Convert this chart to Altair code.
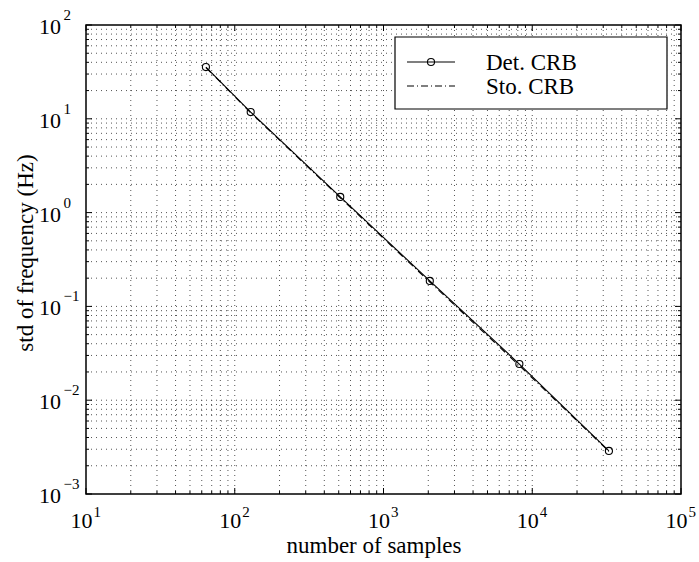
import altair as alt
import pandas as pd

# Cramér-Rao bounds on the frequency estimate versus record length
N = [64, 128, 512, 2048, 8192, 32768]
det_crb = [35.6, 11.8, 1.47, 0.187, 0.0243, 0.00288]
sto_crb = [35.2, 11.6, 1.44, 0.182, 0.0234, 0.00284]

# decade ticks and their exponent labels
x_decades = [10, 100, 1000, 10000, 100000]
x_exponents = ["1", "2", "3", "4", "5"]
y_decades = [0.001, 0.01, 0.1, 1, 10, 100]
y_exponents = ["\u22123", "\u22122", "\u22121", "0", "1", "2"]
mantissas = [2, 3, 4, 5, 6, 7, 8, 9]

legend_labels = ["Det. CRB", "Sto. CRB"]
x_title = "number of samples"
y_title = "std of frequency (Hz)"

W, H = 595, 469
FONT = "Liberation Serif"
MAJOR, MINOR = 6, 3
DASHDOT = [7, 3, 1, 3]
GRID_DASH = [1, 4]
GRID_COLOR = "#555555"

x_minor = [m * d for d in x_decades[:-1] for m in mantissas]
y_minor = [m * d for d in y_decades[:-1] for m in mantissas]

xs = alt.Scale(type="log", domain=[10, 100000])
ys = alt.Scale(type="log", domain=[0.001, 100])

curves = pd.DataFrame({"N": N, "det": det_crb, "sto": sto_crb})
one = pd.DataFrame({"k": [0]})

# dotted grid at every major and minor tick
x_grid = alt.Chart(pd.DataFrame({"v": x_decades[1:-1] + x_minor})).mark_rule(
    color=GRID_COLOR, strokeWidth=1, strokeDash=GRID_DASH).encode(
    x=alt.X("v:Q", scale=xs, axis=None), y=alt.value(0), y2=alt.value(H))
y_grid = alt.Chart(pd.DataFrame({"v": y_decades[1:-1] + y_minor})).mark_rule(
    color=GRID_COLOR, strokeWidth=1, strokeDash=GRID_DASH).encode(
    y=alt.Y("v:Q", scale=ys, axis=None), x=alt.value(0), x2=alt.value(W))

# curves
sto_line = alt.Chart(curves).mark_line(color="black", strokeWidth=1.1, strokeDash=DASHDOT).encode(
    x=alt.X("N:Q", scale=xs, axis=None),
    y=alt.Y("sto:Q", scale=ys, axis=None),
)
det_line = alt.Chart(curves).mark_line(color="black", strokeWidth=1.1).encode(
    x=alt.X("N:Q", scale=xs, axis=None),
    y=alt.Y("det:Q", scale=ys, axis=None),
)
det_pts = alt.Chart(curves).mark_point(shape="circle", filled=False, size=50,
                                       color="black", strokeWidth=1.1, opacity=1).encode(
    x=alt.X("N:Q", scale=xs, axis=None),
    y=alt.Y("det:Q", scale=ys, axis=None),
)


# inward ticks on all four sides of the box
def x_ticks(values, length):
    base = alt.Chart(pd.DataFrame({"v": values})).mark_rule(color="black", strokeWidth=1)
    xe = alt.X("v:Q", scale=xs, axis=None)
    return [base.encode(x=xe, y=alt.value(H), y2=alt.value(H - length)),
            base.encode(x=xe, y=alt.value(0), y2=alt.value(length))]


def y_ticks(values, length):
    base = alt.Chart(pd.DataFrame({"v": values})).mark_rule(color="black", strokeWidth=1)
    ye = alt.Y("v:Q", scale=ys, axis=None)
    return [base.encode(y=ye, x=alt.value(0), x2=alt.value(length)),
            base.encode(y=ye, x=alt.value(W), x2=alt.value(W - length))]


ticks = (x_ticks(x_decades, MAJOR) + x_ticks(x_minor, MINOR)
         + y_ticks(y_decades, MAJOR) + y_ticks(y_minor, MINOR))

# tick labels as 10 with a raised exponent
xlab = pd.DataFrame({"v": x_decades, "e": x_exponents})
ylab = pd.DataFrame({"v": y_decades, "e": y_exponents})
x_base = alt.Chart(xlab).mark_text(font=FONT, fontSize=22, align="right", baseline="alphabetic",
                                   dx=6.5, color="black").encode(
    x=alt.X("v:Q", scale=xs, axis=None), y=alt.value(H + 34), text=alt.value("10"))
x_exp = alt.Chart(xlab).mark_text(font=FONT, fontSize=15, align="left", baseline="alphabetic",
                                  dx=7.5, color="black").encode(
    x=alt.X("v:Q", scale=xs, axis=None), y=alt.value(H + 23), text="e:N")
y_base = alt.Chart(ylab).mark_text(font=FONT, fontSize=22, align="right", baseline="alphabetic",
                                   dy=9, color="black").encode(
    y=alt.Y("v:Q", scale=ys, axis=None), x=alt.value(-25), text=alt.value("10"))
y_exp = alt.Chart(ylab).mark_text(font=FONT, fontSize=15, align="left", baseline="alphabetic",
                                  dy=-5, color="black").encode(
    y=alt.Y("v:Q", scale=ys, axis=None), x=alt.value(-22.5), text="e:N")

# axis titles
x_tt = alt.Chart(one).mark_text(font=FONT, fontSize=23, align="center", baseline="alphabetic",
                                color="black").encode(
    x=alt.value(288), y=alt.value(H + 59), text=alt.value(x_title))
y_tt = alt.Chart(one).mark_text(font=FONT, fontSize=23, align="center", baseline="alphabetic",
                                angle=270, color="black").encode(
    x=alt.value(-53), y=alt.value(228), text=alt.value(y_title))

# legend box
leg_box = alt.Chart(one).mark_rect(fill="white", stroke="black", strokeWidth=1.2).encode(
    x=alt.value(309), x2=alt.value(581), y=alt.value(12), y2=alt.value(84))
leg_det_line = alt.Chart(one).mark_rule(color="black", strokeWidth=1.1).encode(
    x=alt.value(321), x2=alt.value(369), y=alt.value(37))
leg_det_pt = alt.Chart(one).mark_point(shape="circle", filled=False, size=50, color="black",
                                       strokeWidth=1.1, opacity=1).encode(
    x=alt.value(345), y=alt.value(37))
leg_sto_line = alt.Chart(one).mark_rule(color="black", strokeWidth=1.1, strokeDash=DASHDOT).encode(
    x=alt.value(321), x2=alt.value(369), y=alt.value(61))
leg_det_txt = alt.Chart(one).mark_text(font=FONT, fontSize=23, align="left", baseline="alphabetic",
                                       color="black").encode(
    x=alt.value(400), y=alt.value(45), text=alt.value(legend_labels[0]))
leg_sto_txt = alt.Chart(one).mark_text(font=FONT, fontSize=23, align="left", baseline="alphabetic",
                                       color="black").encode(
    x=alt.value(400), y=alt.value(69), text=alt.value(legend_labels[1]))

chart = alt.layer(
    x_grid, y_grid,
    sto_line, det_line, det_pts,
    *ticks,
    x_base, x_exp, y_base, y_exp, x_tt, y_tt,
    leg_box, leg_det_line, leg_det_pt, leg_sto_line, leg_det_txt, leg_sto_txt,
).properties(
    width=W, height=H,
    autosize=alt.AutoSizeParams(type="none"),
    padding={"left": 86, "top": 25, "right": 18, "bottom": 68},
    background="white",
).configure_view(stroke="black", strokeWidth=1.5)

chart.save("out.html", embed_options={"renderer": "svg", "actions": False})
